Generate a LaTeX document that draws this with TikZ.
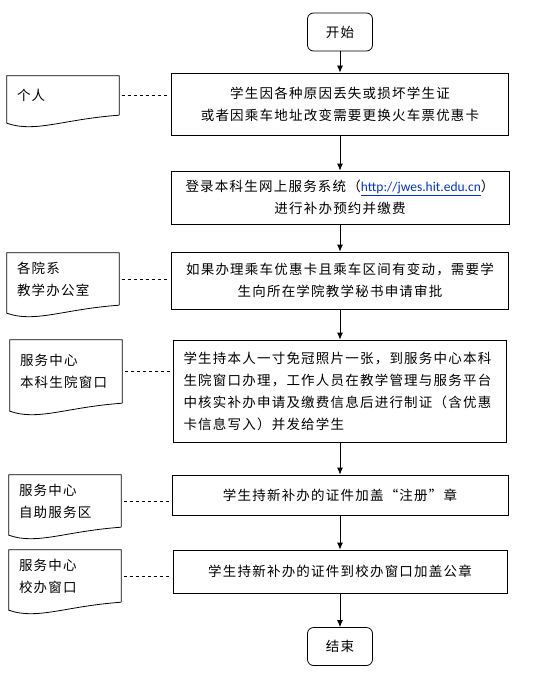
\documentclass[tikz,border=0pt]{standalone}
\usepackage{fontspec}
\setmainfont{Noto Sans CJK SC}[LetterSpace=9]
\newfontfamily\urlfont{Carlito}
\usetikzlibrary{calc}
\usetikzlibrary{arrows.meta, positioning}
\definecolor{linkblue}{RGB}{0,51,204}

\begin{document}
\begin{tikzpicture}[
    x=1pt, y=-1pt,
    font=\fontsize{13.5}{22}\selectfont,
    stepbox/.style={draw, line width=0.8pt, align=center, inner sep=0pt},
    term/.style={draw, line width=0.8pt, rounded corners=6pt, minimum width=65pt, minimum height=38pt},
    doc/.style={text width=92pt, align=left, inner xsep=10pt, inner ysep=0pt},
    flow/.style={-{Latex[length=7pt, width=6pt]}, line width=0.8pt},
    link/.style={dashed, line width=0.6pt, shorten <=3pt, shorten >=3pt}
]
\useasboundingbox (0,0) rectangle (549,674);
% Start and end
\node[term] (start) at (340,32) {开始};
\node[term] (stop) at (340,646.5) {结束};
% Process steps
\node[stepbox, minimum width=337pt, minimum height=62pt] (b1) at (340,104)
    {学生因各种原因丢失或损坏学生证\\或者因乘车地址改变需要更换火车票优惠卡};
\node[stepbox, minimum width=338pt, minimum height=53pt] (b2) at (340,197.5)
    {登录本科生网上服务系统（{\urlfont\addfontfeature{LetterSpace=0}\textcolor{linkblue}{\underline{http://jwes.hit.edu.cn}}}）\\进行补办预约并缴费};
\node[stepbox, minimum width=337pt, minimum height=57pt] (b3) at (340,280.5)
    {如果办理乘车优惠卡且乘车区间有变动，需要学\\生向所在学院教学秘书申请审批};
\node[stepbox, text width=313pt, inner xsep=10pt, align=left, minimum height=102pt] (b4) at (340,391)
    {学生持本人一寸免冠照片一张，到服务中心本科\\生院窗口办理，工作人员在教学管理与服务平台\\中核实补办申请及缴费信息后进行制证（含优惠\\卡信息写入）并发给学生};
\node[stepbox, minimum width=336pt, minimum height=40pt] (b5) at (340,495)
    {学生持新补办的证件加盖“注册”章};
\node[stepbox, minimum width=334pt, minimum height=43pt] (b6) at (340,571.5)
    {学生持新补办的证件到校办窗口加盖公章};
% Offices (document shapes)
\node[doc, minimum height=39pt] (d1) at (63,95.5) {个人};
\node[doc, minimum height=52pt] (d2) at (63,279) {各院系\\教学办公室};
\node[doc, minimum height=63pt] (d3) at (66,371.5) {服务中心\\本科生院窗口};
\node[doc, minimum height=52pt] (d4) at (65,501) {服务中心\\自助服务区};
\node[doc, minimum height=52pt] (d5) at (65,576) {服务中心\\校办窗口};
\foreach \dc in {d1,d2,d3,d4,d5} {
    \draw[line width=0.8pt] (\dc.south east) -- (\dc.north east) -- (\dc.north west)
        -- ($(\dc.south west)+(0,8)$)
        .. controls ($(\dc.south west)!0.25!(\dc.south east)+(0,18)$)
        and ($(\dc.south west)!0.5!(\dc.south east)+(0,4)$) .. (\dc.south east);
}
% Flow arrows
\foreach \a/\b in {start/b1, b1/b2, b2/b3, b3/b4, b4/b5, b5/b6, b6/stop} {
    \draw[flow] (\a) -- (\b);
}
% Dashed links
\foreach \dc/\bx in {d1/b1, d2/b2, d3/b4, d4/b5, d5/b6} {
    \draw[link] (\dc.east) -- (\dc.east -| \bx.west);
}
\end{tikzpicture}
\end{document}
